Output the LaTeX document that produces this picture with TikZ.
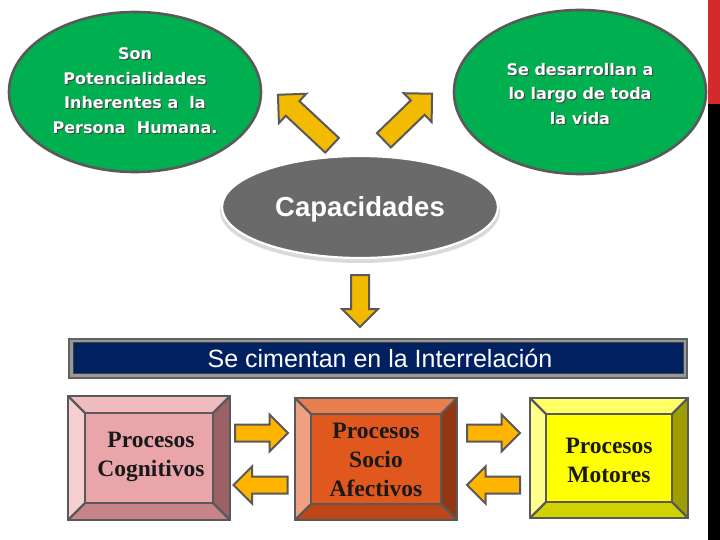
\documentclass[tikz,border=0pt]{standalone}
\usepackage{fontspec}
\setmainfont{Liberation Serif}
\newfontfamily\arialf{Liberation Sans}
\newfontfamily\comicf{DejaVu Sans}
\usetikzlibrary{shapes.geometric}
\definecolor{gfill}{HTML}{00B050}
\definecolor{edge}{HTML}{595959}
\definecolor{arrowy}{HTML}{F2BA00}
\definecolor{arrowo}{HTML}{FFB400}
\definecolor{navy}{HTML}{002060}
\definecolor{capg}{HTML}{6A6A6A}
\definecolor{barred}{HTML}{D42A2E}
% bevel box colours
\definecolor{cogF}{HTML}{E9A5AA}\definecolor{cogT}{HTML}{EFBBBE}\definecolor{cogL}{HTML}{F5CFD1}\definecolor{cogR}{HTML}{9C6165}\definecolor{cogB}{HTML}{C78489}
\definecolor{socF}{HTML}{E0581E}\definecolor{socT}{HTML}{E87E4E}\definecolor{socL}{HTML}{EFA080}\definecolor{socR}{HTML}{933612}\definecolor{socB}{HTML}{BE4716}
\definecolor{motF}{HTML}{FFFF00}\definecolor{motT}{HTML}{FFFF66}\definecolor{motL}{HTML}{FFFF8C}\definecolor{motR}{HTML}{9E9E00}\definecolor{motB}{HTML}{D2D200}
\newcommand{\bevbox}[7]{%
  \fill[#6T] (#2,#3) -- (#4,#3) -- ({#4-#7},{#3+#7}) -- ({#2+#7},{#3+#7}) -- cycle;
  \fill[#6L] (#2,#3) -- ({#2+#7},{#3+#7}) -- ({#2+#7},{#5-#7}) -- (#2,#5) -- cycle;
  \fill[#6R] (#4,#3) -- ({#4-#7},{#3+#7}) -- ({#4-#7},{#5-#7}) -- (#4,#5) -- cycle;
  \fill[#6B] (#2,#5) -- ({#2+#7},{#5-#7}) -- ({#4-#7},{#5-#7}) -- (#4,#5) -- cycle;
  \fill[#6F] ({#2+#7},{#3+#7}) rectangle ({#4-#7},{#5-#7});
  \draw[bevline] (#2,#3) rectangle (#4,#5);
  \draw[bevline] ({#2+#7},{#3+#7}) rectangle ({#4-#7},{#5-#7});
  \draw[bevline] (#2,#3) -- ({#2+#7},{#3+#7}) (#4,#3) -- ({#4-#7},{#3+#7})
                 (#2,#5) -- ({#2+#7},{#5-#7}) (#4,#5) -- ({#4-#7},{#5-#7});
  \coordinate (#1) at ({(#2+#4)/2},{(#3+#5)/2});
}
% block arrow: #1 style, #2 x, #3 y, #4 angle, #5 length, #6 shaft half width, #7 head half width
\newcommand{\barrow}[7]{%
  \begin{scope}[shift={(#2,#3)}, rotate=#4]
  \draw[#1] ({-#5/2},{-#6}) -- ({#5/2-#7},{-#6}) -- ({#5/2-#7},{-#7}) -- ({#5/2},0)
     -- ({#5/2-#7},{#7}) -- ({#5/2-#7},{#6}) -- ({-#5/2},{#6}) -- cycle;
  \end{scope}}
\tikzset{
  bevline/.style={draw=edge, line width=2.4pt, line join=miter},
  greenell/.style={ellipse, fill=gfill, draw=edge, line width=2.6pt, inner sep=0pt},
  ellipsetext/.style={font=\comicf\bfseries\fontsize{16}{24.5}\selectfont, align=center, text=white},
  yarrow/.style={draw=edge, fill=arrowy, line width=2pt, line join=miter},
  oarrow/.style={draw=edge, fill=arrowo, line width=2pt, line join=miter},
  boxtext/.style={font=\bfseries\fontsize{23.5}{29}\selectfont, align=center, text=black!90},
}
\begin{document}
\begin{tikzpicture}[x=1pt,y=-1pt]
\useasboundingbox (0,0) rectangle (720,540);
\fill[white] (0,0) rectangle (720,540);
% right side bars
\fill[black] (708,104) rectangle (720,540);
\fill[barred] (708,0) rectangle (720,104);
% green ellipses
\node[greenell, minimum width=252pt, minimum height=160pt] (left) at (135,92) {};
\node[greenell, minimum width=252pt, minimum height=164pt] (right) at (580,92) {};
\node[ellipsetext, text=black!75] at (136,91.5) {Son\\Potencialidades\\Inherentes a\ \ la\\Persona\ \ Humana.};
\node[ellipsetext] (lt) at (135,90.5) {Son\\Potencialidades\\Inherentes a\ \ la\\Persona\ \ Humana.};
\node[ellipsetext, text=black!75] at (581,95) {Se desarrollan a\\lo largo de toda\\la vida};
\node[ellipsetext] (rt) at (580,94) {Se desarrollan a\\lo largo de toda\\la vida};
% Capacidades ellipse
\fill[black!15] (360,211) ellipse (140pt and 52pt);
\node[ellipse, fill=capg, draw=white, line width=2.2pt, minimum width=276pt, minimum height=102pt, inner sep=0pt] (cap) at (360,207) {};
\node[font=\arialf\bfseries\fontsize{27.5}{32}\selectfont, text=black!60] at (361.2,210.2) {Capacidades};
\node[font=\arialf\bfseries\fontsize{27.5}{32}\selectfont, text=white] (capt) at (360,209) {Capacidades};
% arrows from Capacidades
\barrow{yarrow}{305}{120}{137}{74}{10}{20}
\barrow{yarrow}{408}{117}{44}{67}{10}{20}
\barrow{yarrow}{360}{301}{-90}{52}{9}{18}
% banner
\fill[black!62] (68,338) rectangle (688,379);
\fill[black!40] (70,340) rectangle (686,377);
\fill[navy] (73,342.5) rectangle (683,373);
\draw[black!75, line width=0.8pt] (73,342.5) rectangle (683,373);
\node[font=\arialf\fontsize{25}{29}\selectfont, text=white] (banner) at (380,358) {Se cimentan en la Interrelación};
% bevel boxes
\bevbox{cog}{68}{396}{230}{520}{cog}{17}
\bevbox{soc}{295}{398}{457}{520}{soc}{16}
\bevbox{mot}{530}{398}{688}{518}{mot}{16}
\node[boxtext] at (151,457) {Procesos\\Cognitivos};
\node[boxtext] at (376,460) {Procesos\\Socio\\Afectivos};
\node[boxtext] at (609,460) {Procesos\\Motores};
% horizontal arrows
\barrow{oarrow}{261.5}{433}{0}{53}{8.5}{18.5}
\barrow{oarrow}{260.5}{485}{180}{54}{8.5}{18.5}
\barrow{oarrow}{493.5}{433}{0}{53}{8.5}{18.5}
\barrow{oarrow}{493.5}{485}{180}{53}{8.5}{18.5}
\end{tikzpicture}
\end{document}
